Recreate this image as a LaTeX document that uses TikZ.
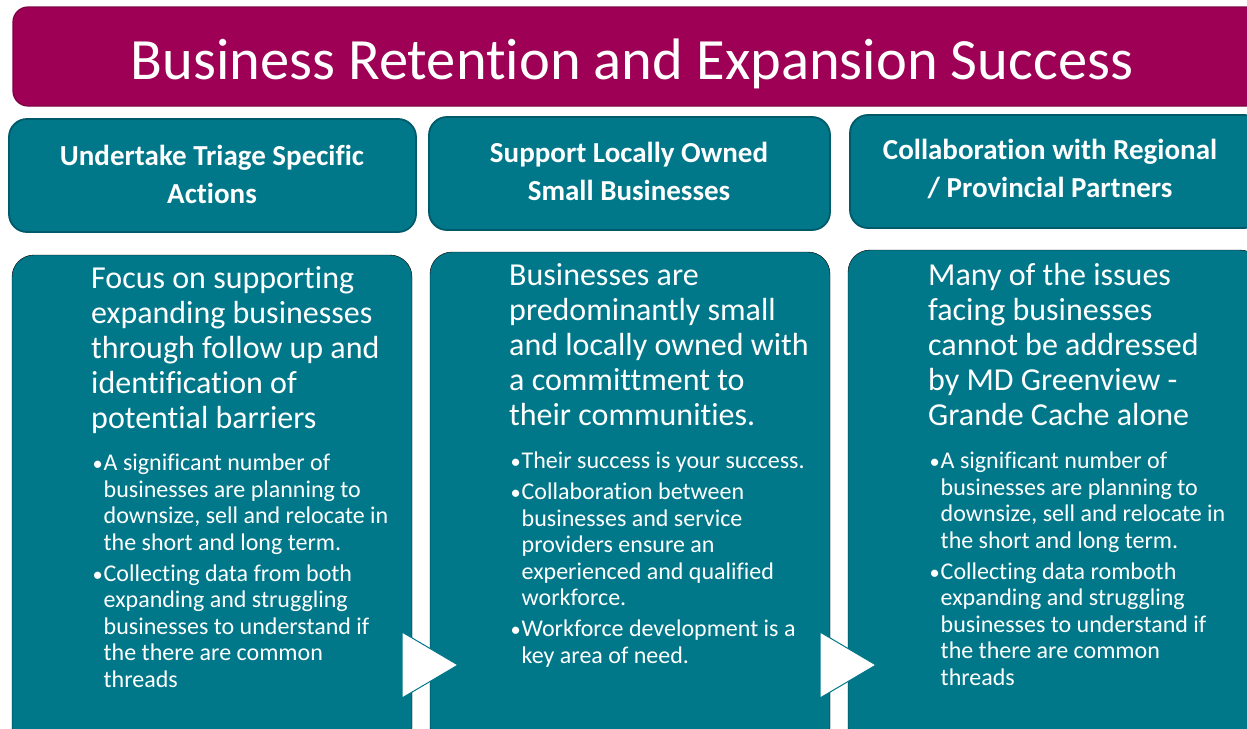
\documentclass[tikz,border=0pt]{standalone}
\usepackage{fontspec}
\setmainfont{Carlito}[Ligatures={NoCommon}]
\definecolor{titlefill}{RGB}{158,0,85}
\definecolor{titleline}{RGB}{128,0,68}
\definecolor{boxteal}{RGB}{0,120,138}
\definecolor{boxline}{RGB}{0,90,106}
% one bullet item with hanging indent
\newcommand{\bitem}[1]{\par\hangindent=12.5pt\hangafter=1\noindent\makebox[12.5pt][l]{\hspace{1.5pt}\scalebox{0.85}{•}}#1}
\tikzset{
  titlebox/.style={fill=titlefill, draw=titleline, line width=1.2pt, rounded corners=15pt},
  headbox/.style={fill=boxteal, draw=boxline, line width=1.8pt, rounded corners=18pt},
  bodybox/.style={fill=boxteal, rounded corners=22pt},
  arrowtri/.style={fill=white, draw=boxteal, line width=1pt, line join=miter},
  titletext/.style={text=white, inner sep=0pt, anchor=base, font=\fontsize{58.5}{62}\selectfont},
  headtext/.style={text=white, inner sep=0pt, align=center, font=\bfseries\fontsize{29}{38}\selectfont},
  maintext/.style={text=white, inner sep=0pt, anchor=north west},
  bullettext/.style={text=white, inner sep=0pt, anchor=north west},
}
\begin{document}
\begin{tikzpicture}[x=1pt,y=-1pt]
\useasboundingbox (0,0) rectangle (1247,728);
\clip (0,0) rectangle (1247,728);

% banner
\draw[titlebox] (13,7) rectangle (1262,106);
\node[titletext] (title) at (632,79) {Business Retention and Expansion Success};

% column headers
\draw[headbox] (9,119) rectangle (416,232);
\draw[headbox] (429,117) rectangle (830,230);
\draw[headbox] (850,115) rectangle (1262,228);
\node[headtext] (h1) at (212,174) {Undertake Triage Specific\\Actions};
\node[headtext] (h2) at (629,171) {Support Locally Owned\\Small Businesses};
\node[headtext] (h3) at (1050,169) {Collaboration with Regional\\/ Provincial Partners};

% column bodies
\draw[bodybox] (12,255) rectangle (412,750);
\draw[bodybox] (430,252) rectangle (830,750);
\draw[bodybox] (848,250) rectangle (1262,750);

% arrows between the columns
\draw[arrowtri] (402,632) -- (458,665) -- (402,698) -- cycle;
\draw[arrowtri] (820,632) -- (876,665) -- (820,698) -- cycle;

% lead statements
\node[maintext] (m1) at (91,264) {\parbox[t]{330pt}{\fontsize{32}{35}\selectfont\strut Focus on supporting\\expanding businesses\\through follow up and\\identification of\\potential barriers}};
\node[maintext] (m2) at (509,261) {\parbox[t]{330pt}{\fontsize{32}{35}\selectfont\strut Businesses are\\predominantly small\\and locally owned with\\a committment to\\their communities.}};
\node[maintext] (m3) at (928,261) {\parbox[t]{330pt}{\fontsize{32}{35}\selectfont\strut Many of the issues\\facing businesses\\cannot be addressed\\by MD Greenview -\\Grande Cache alone}};

% supporting points
\node[bullettext] (b1) at (91,452) {\parbox[t]{330pt}{\fontsize{24}{26.5}\selectfont\parskip=4.5pt
  \bitem{\strut A significant number of\\businesses are planning to\\downsize, sell and relocate in\\the short and long term.}
  \bitem{Collecting data from both\\expanding and struggling\\businesses to understand if\\the there are common\\threads}}};
\node[bullettext] (b2) at (509,450) {\parbox[t]{330pt}{\fontsize{24}{26.5}\selectfont\parskip=4.5pt
  \bitem{\strut Their success is your success.}
  \bitem{Collaboration between\\businesses and service\\providers ensure an\\experienced and qualified\\workforce.}
  \bitem{Workforce development is a\\key area of need.}}};
\node[bullettext] (b3) at (928,450) {\parbox[t]{330pt}{\fontsize{24}{26.5}\selectfont\parskip=4.5pt
  \bitem{\strut A significant number of\\businesses are planning to\\downsize, sell and relocate in\\the short and long term.}
  \bitem{Collecting data romboth\\expanding and struggling\\businesses to understand if\\the there are common\\threads}}};
\end{tikzpicture}
\end{document}
